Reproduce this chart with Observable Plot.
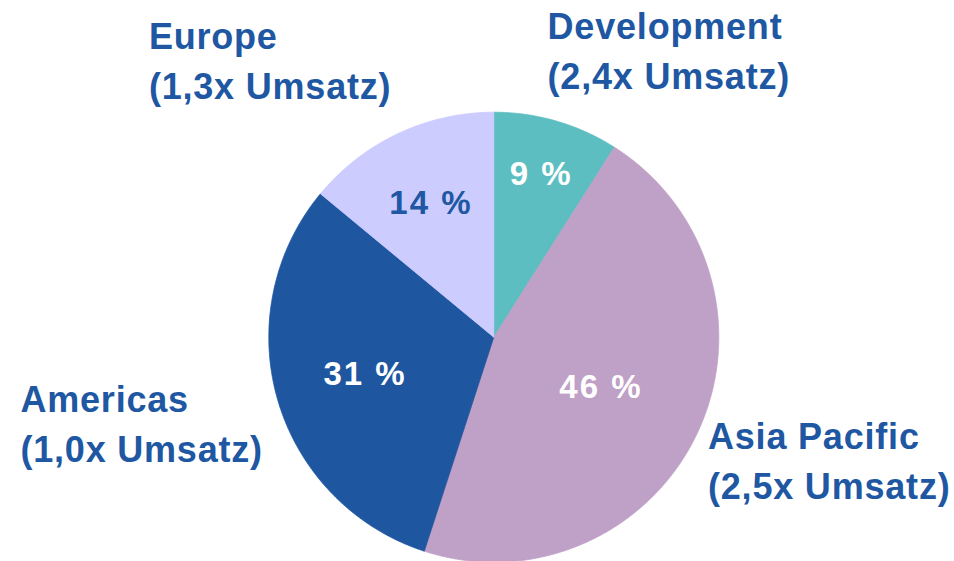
<!DOCTYPE html>
<html>
<head>
<meta charset="utf-8">
<script src="https://cdn.jsdelivr.net/npm/d3@7"></script>
<script src="https://cdn.jsdelivr.net/npm/@observablehq/plot@0.6"></script>
<style>
  html, body { margin: 0; padding: 0; background: #ffffff; }
  #chart svg { display: block; }
</style>
</head>
<body>
<div id="chart"></div>
<script>
// ---- data ----
const segments = ["Development", "Asia Pacific", "Americas", "Europe"];
const shares = [9, 46, 31, 14];            // percent of total
const multiples = ["2,4x", "2,5x", "1,0x", "1,3x"]; // x Umsatz

// ---- styles / layout ----
const colors = ["#5cbec1", "#bfa0c7", "#1f56a0", "#ccccff"];
const pctColors = ["#ffffff", "#ffffff", "#ffffff", "#2057a2"];
const textBlue = "#2057a2";
const W = 954, H = 561;
const R = 225, CX = 493.3, CY = 336.7;       // pie radius and centre in px
const pctRadius = [0.755, 0.526, 0.596, 0.656]; // label distance (fraction of radius)
const outerLabelPos = [[0.239, 1.285], [0.952, -0.536], [-2.104, -0.373], [-1.533, 1.24]];

// ---- build slice geometry (unit circle, angle clockwise from top) ----
const arcs = d3.pie().sort(null).value(d => d)(shares);
const slicePts = [];
arcs.forEach((a, i) => {
  const name = segments[i];
  slicePts.push({name, x: 0, y: 0});
  const steps = Math.max(2, Math.ceil((a.endAngle - a.startAngle) / (Math.PI / 720)));
  for (let k = 0; k <= steps; k++) {
    const t = a.startAngle + (a.endAngle - a.startAngle) * k / steps;
    slicePts.push({name, x: Math.sin(t), y: Math.cos(t)});
  }
  slicePts.push({name, x: 0, y: 0});
});

const pctData = arcs.map((a, i) => {
  const mid = (a.startAngle + a.endAngle) / 2;
  return {
    label: `${shares[i]} %`,
    x: pctRadius[i] * Math.sin(mid),
    y: pctRadius[i] * Math.cos(mid),
    color: pctColors[i]
  };
});

const outerData = segments.map((s, i) => ({
  label: `${s}\n(${multiples[i]} Umsatz)`,
  x: outerLabelPos[i][0],
  y: outerLabelPos[i][1]
}));

const chart = Plot.plot({
  width: W,
  height: H,
  margin: 0,
  style: {fontFamily: "'Liberation Sans', Arial, Helvetica, sans-serif", background: "#ffffff"},
  x: {domain: [-CX / R, (W - CX) / R], range: [0, W], axis: null},
  y: {domain: [-(H - CY) / R, CY / R], range: [H, 0], axis: null},
  color: {domain: segments, range: colors},
  marks: [
    Plot.line(slicePts, {x: "x", y: "y", z: "name", fill: "name", stroke: "name", strokeWidth: 0.8, curve: "linear"}),
    Plot.text(pctData, {x: "x", y: "y", text: "label", fill: d => d.color, fontSize: 33, fontWeight: "bold", textAnchor: "middle"}),
    Plot.text(outerData, {x: "x", y: "y", text: "label", fill: textBlue, fontSize: 36, fontWeight: "bold", textAnchor: "start", lineAnchor: "middle", lineHeight: 1.39})
  ]
});

const textGroups = d3.select(chart).selectAll('g[aria-label="text"]').nodes();
if (textGroups[0]) textGroups[0].setAttribute("letter-spacing", "2px");
if (textGroups[1]) textGroups[1].setAttribute("letter-spacing", "0.8px");

document.getElementById("chart").appendChild(chart);
</script>
</body>
</html>
